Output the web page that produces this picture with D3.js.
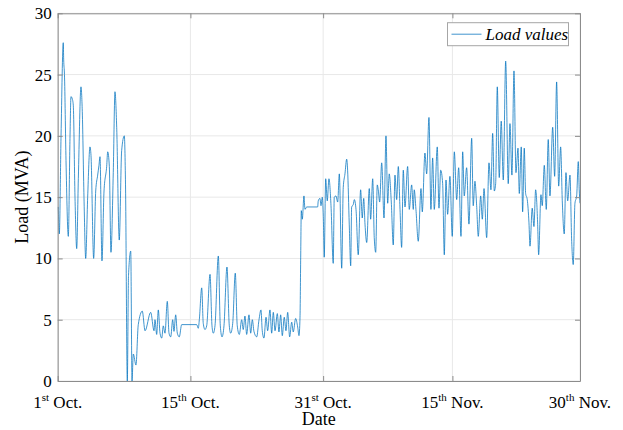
<!DOCTYPE html>
<html>
<head>
<meta charset="utf-8">
<script src="https://cdn.jsdelivr.net/npm/d3@7"></script>
<style>
  body { margin: 0; background: #fff; }
  svg { display: block; font-family: "Liberation Serif", "Times New Roman", serif; }
</style>
</head>
<body>
<svg id="chart" width="623" height="430"></svg>
<script>
// [days since 1st Oct, load in MVA]
var octHigh = [[0.07,14.2],[0.19,12.0],[0.39,20.0],[0.65,27.6],[0.70,26.2],[0.79,25.0],[0.97,18.0],[1.24,11.8],[1.44,20.0],[1.55,23.2],[1.71,23.0],[1.82,22.5],[2.02,15.0],[2.22,10.8],[2.41,16.5],[2.72,24.0],[2.87,22.0],[3.07,15.0],[3.27,10.0],[3.50,15.0],[3.77,19.1],[3.89,18.4],[4.20,10.0],[4.44,15.5],[4.67,16.8],[4.82,17.6],[4.94,18.3],[5.17,9.8],[5.41,15.5],[5.72,17.5],[5.84,18.7],[6.03,17.5],[6.22,10.5],[6.49,17.0],[6.69,23.6],[6.89,20.7],[7.19,11.5],[7.47,18.8],[7.78,20.0],[7.92,16.0]];
var octOutage = [[8.13,0],[8.27,8.6],[8.53,10.6],[8.68,0],[8.83,2.2],[9.14,1.3],[9.41,4.6],[9.88,5.7],[10.20,4.1],[10.86,5.6],[11.25,4.1]];
var octLow = [[11.36,5.0],[11.56,3.8],[11.75,5.8],[11.95,3.9],[12.15,3.5],[12.33,4.5],[12.53,3.9],[12.80,6.5],[13.00,3.9],[13.20,3.6],[13.43,5.0],[13.58,4.05],[13.78,5.4],[13.97,3.9],[14.20,3.6],[14.48,4.6],[16.23,4.6],[16.42,4.3],[16.54,5.0],[16.82,7.6],[17.00,4.7],[17.20,4.2],[17.40,4.5],[17.79,8.7],[18.02,4.5],[18.17,3.9],[18.37,4.5],[18.76,10.2],[18.99,4.5],[19.19,3.6],[19.42,4.5],[19.77,9.3],[20.04,4.5],[20.20,3.9],[20.44,4.7],[20.74,8.8],[20.97,4.5],[21.21,3.8],[21.49,5.0],[21.67,4.2],[21.87,5.3],[22.07,3.8],[22.34,5.4],[22.54,3.9],[22.73,5.0],[22.92,4.05],[23.24,3.6],[23.51,5.0],[23.74,5.8],[23.89,4.1],[24.09,3.5],[24.33,5.2],[24.52,4.1],[24.79,5.8],[24.99,3.9],[25.18,5.6],[25.38,4.1],[25.65,5.5],[25.84,4.0],[26.04,5.4],[26.23,3.7],[26.46,5.2],[26.66,4.1],[26.86,5.6],[27.09,3.6],[27.33,4.8],[27.51,4.0],[27.79,5.1],[28.03,4.4],[28.18,3.7],[28.30,5.2]];
var novHigh = [[28.38,10.1],[28.45,13.9],[28.57,13.2],[28.76,15.1],[28.88,14.0],[29.08,14.2],[30.36,14.2],[30.43,14.7],[30.63,14.9],[30.75,14.3],[30.90,15.0],[31.02,13.4],[31.13,10.1],[31.30,16.5],[31.48,14.7],[31.68,16.5],[31.92,14.3],[32.18,9.6],[32.30,15.0],[32.50,15.1],[32.70,14.6],[32.89,16.9],[33.17,9.2],[33.35,15.8],[33.55,16.9],[33.75,18.1],[33.86,17.2],[34.05,12.8],[34.22,9.4],[34.33,14.2],[34.52,14.4],[34.64,14.8],[34.84,14.0],[35.10,10.3],[35.38,15.6],[35.57,13.3],[35.74,14.9],[35.89,12.8],[36.09,11.3],[36.39,15.7],[36.55,13.2],[36.79,16.5],[36.97,11.7],[37.14,10.5],[37.32,16.0],[37.44,15.6],[37.60,14.6],[37.84,17.8],[38.11,13.3],[38.34,20.0],[38.54,14.5],[38.72,16.9],[38.96,14.6],[39.19,11.1],[39.39,16.8],[39.59,14.8],[39.78,17.5],[39.97,14.2],[40.17,10.9],[40.36,17.2],[40.56,14.2],[40.87,17.5],[41.06,14.0],[41.34,16.0],[41.53,14.0],[41.64,15.6],[41.84,14.0],[42.11,11.4],[42.43,15.7],[42.58,13.8],[42.89,18.6],[43.09,16.9],[43.36,21.5],[43.59,14.0],[43.79,18.2],[43.98,14.0],[44.33,19.1],[44.53,14.1],[44.73,17.2],[44.96,16.1],[45.15,10.3],[45.35,16.4],[45.54,13.6],[45.81,16.7],[46.08,11.8],[46.32,18.7],[46.60,14.8],[46.83,17.4],[47.10,11.8],[47.30,18.7],[47.48,15.1],[47.76,17.4],[48.03,12.8],[48.35,19.8],[48.53,14.3],[48.73,16.3],[48.93,14.3],[49.12,11.8],[49.40,15.1],[49.59,13.2],[49.79,15.7],[50.10,11.7],[50.37,17.8],[50.60,15.6],[50.80,20.2],[50.99,15.5],[51.15,16.1],[51.34,24.0],[51.57,16.6],[51.80,21.2],[52.04,16.4],[52.32,26.1],[52.62,16.1],[52.82,21.0],[53.05,16.8],[53.29,25.3],[53.52,17.0],[53.76,19.0],[53.91,15.3],[54.14,19.1],[54.30,13.8],[54.49,19.0],[54.65,15.3],[54.84,14.8],[55.04,12.9],[55.16,11.0],[55.42,14.1],[55.62,12.6],[55.82,15.6],[56.05,12.9],[56.17,10.3],[56.44,15.2],[56.59,14.3],[56.83,17.6],[57.06,14.0],[57.29,19.7],[57.49,15.1],[57.81,20.7],[58.04,16.7],[58.27,24.4],[58.51,15.9],[58.74,19.1],[58.93,14.7],[59.16,12.0],[59.36,17.0],[59.56,14.7],[59.83,16.8],[60.02,11.6],[60.21,9.5],[60.41,14.5],[60.61,15.1],[60.80,17.9],[60.91,15.6],[61.00,14.5]];

// axis ticks
var xTickDays = [0, 15.5, 31, 46.1, 61];
var xTickNums = ["1", "15", "31", "15", "30"];
var xTickSups = ["st", "th", "st", "th", "th"];
var xTickMonths = ["Oct.", "Oct.", "Oct.", "Nov.", "Nov."];
var yTicks = [0, 5, 10, 15, 20, 25, 30];

function draw_load_plot(svgElementId) {
    var svg = d3.select("#" + svgElementId),
        margin = { top: 13.3, right: 43, bottom: 49, left: 57.7 },
        width = 623 - margin.left - margin.right,
        height = 430 - margin.top - margin.bottom;

    var g = svg.append("g").attr("transform", "translate(" + margin.left + "," + margin.top + ")");

    var xScale = d3.scaleLinear().domain([0, 61]).range([0, width]),
        yScale = d3.scaleLinear().domain([0, 30]).range([height, 0]);

    var axisColor = "#8c8c8c";

    // light grid lines behind everything
    g.append("g").selectAll("line.gx")
        .data(xTickDays).enter().append("line")
        .attr("x1", function(d) { return xScale(d); })
        .attr("x2", function(d) { return xScale(d); })
        .attr("y1", 0).attr("y2", height)
        .attr("stroke", "#e8e8e8").attr("stroke-width", 1);
    g.append("g").selectAll("line.gy")
        .data(yTicks).enter().append("line")
        .attr("y1", function(d) { return yScale(d); })
        .attr("y2", function(d) { return yScale(d); })
        .attr("x1", 0).attr("x2", width)
        .attr("stroke", "#e8e8e8").attr("stroke-width", 1);

    // the load series, all segments joined
    var series = octHigh.concat(octOutage, octLow, novHigh);
    var line = d3.line()
        .curve(d3.curveMonotoneX)
        .x(function(d) { return xScale(d[0]); })
        .y(function(d) { return yScale(d[1]); });

    g.append("path")
        .datum(series)
        .attr("d", line)
        .attr("fill", "none")
        .attr("stroke", "#0072BD")
        .attr("stroke-width", 0.75)
        .attr("stroke-linejoin", "round");

    // axes with inward ticks on all four sides (box on)
    var xAxis = g.append("g")
        .attr("transform", "translate(0," + height + ")")
        .call(d3.axisBottom(xScale).tickValues(xTickDays).tickSize(-5).tickSizeOuter(0).tickFormat(""));
    var xAxisTop = g.append("g")
        .call(d3.axisTop(xScale).tickValues(xTickDays).tickSize(-5).tickSizeOuter(0).tickFormat(""));
    var yAxis = g.append("g")
        .call(d3.axisLeft(yScale).tickValues(yTicks).tickSize(-5).tickSizeOuter(0).tickPadding(6));
    var yAxisRight = g.append("g")
        .attr("transform", "translate(" + width + ",0)")
        .call(d3.axisRight(yScale).tickValues(yTicks).tickSize(-5).tickSizeOuter(0).tickFormat(""));

    [xAxis, xAxisTop, yAxis, yAxisRight].forEach(function(a) {
        a.select(".domain").attr("stroke", axisColor);
        a.selectAll(".tick line").attr("stroke", axisColor);
    });

    yAxis.selectAll(".tick text")
        .attr("fill", "#000")
        .style("font", "17px 'Liberation Serif', serif");

    // x tick labels with ordinal superscripts
    var xLabels = g.append("g").selectAll("text")
        .data(xTickDays).enter().append("text")
        .attr("x", function(d) { return xScale(d); })
        .attr("y", height + 27.5)
        .attr("text-anchor", "middle")
        .style("font-size", "17px")
        .attr("fill", "#000");
    xLabels.append("tspan").text(function(d, i) { return xTickNums[i]; });
    xLabels.append("tspan").attr("dy", -7).style("font-size", "11px")
        .text(function(d, i) { return xTickSups[i]; });
    xLabels.append("tspan").attr("dy", 7)
        .text(function(d, i) { return " " + xTickMonths[i]; });

    // axis titles
    g.append("text")
        .attr("x", width / 2)
        .attr("y", height + 44.5)
        .attr("text-anchor", "middle")
        .style("font-size", "18px")
        .text("Date");
    g.append("text")
        .attr("transform", "translate(-30," + (height / 2) + ") rotate(-90)")
        .attr("text-anchor", "middle")
        .style("font-size", "18px")
        .text("Load (MVA)");

    // legend box, top right
    var legend = g.append("g").attr("transform", "translate(" + (width - 132.5) + ",9.4)");
    legend.append("rect")
        .attr("width", 121).attr("height", 23)
        .attr("fill", "#fff").attr("stroke", "#a6a6a6").attr("stroke-width", 1);
    legend.append("line")
        .attr("x1", 4).attr("x2", 34).attr("y1", 11.5).attr("y2", 11.5)
        .attr("stroke", "#0072BD").attr("stroke-width", 0.75);
    legend.append("text")
        .attr("x", 38).attr("y", 17)
        .style("font-size", "17px").style("font-style", "italic")
        .text("Load values");
}

draw_load_plot("chart");
</script>
</body>
</html>
